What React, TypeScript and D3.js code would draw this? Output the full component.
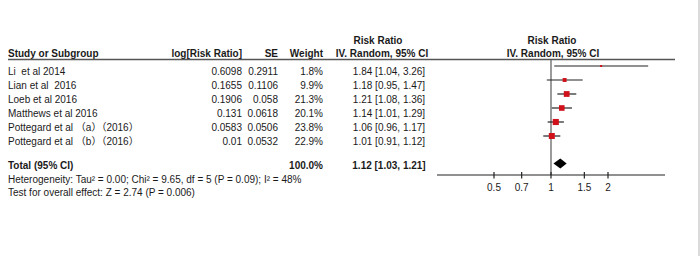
import React from "react";
import * as d3 from "d3";

const studies = [
  "Li  et al 2014",
  "Lian et al  2016",
  "Loeb et al 2016",
  "Matthews et al 2016",
  "Pottegard et al （a）（2016）",
  "Pottegard et al （b）（2016）",
];
const logRR = ["0.6098", "0.1655", "0.1906", "0.131", "0.0583", "0.01"];
const seVals = ["0.2911", "0.1106", "0.058", "0.0618", "0.0506", "0.0532"];
const weights = [1.8, 9.9, 21.3, 20.1, 23.8, 22.9];
const rr = [1.84, 1.18, 1.21, 1.14, 1.06, 1.01];
const lo = [1.04, 0.95, 1.08, 1.01, 0.96, 0.91];
const hi = [3.26, 1.47, 1.36, 1.29, 1.17, 1.12];
const total = { rr: 1.12, lo: 1.03, hi: 1.21, weight: "100.0%" };
const ticks = [0.5, 0.7, 1, 1.5, 2];
const heterogeneity = "Heterogeneity: Tau² = 0.00; Chi² = 9.65, df = 5 (P = 0.09); I² = 48%";
const overall = "Test for overall effect: Z = 2.74 (P = 0.006)";

const fmt = (v: number) => v.toFixed(2);

export default function App() {
  const x = d3.scaleLog().domain([0.25, 4]).range([437, 665]);
  const rowY = d3.scaleLinear().domain([0, 1]).range([66, 80]);
  const font = "'Liberation Sans', Arial, 'Noto Sans CJK SC', sans-serif";
  const fs = 10;
  const txt = "#1a1a1a";
  const totalY = 163.5;
  const axisY = 175;
  const x1 = x(1);

  return (
    <svg
      width={700}
      height={256}
      style={{ position: "absolute", left: 0, top: 0, background: "#fff" }}
      fontFamily={font}
      fontSize={fs}
    >
      <rect x={0} y={0} width={700} height={256} fill="#fff" />
      {/* right border */}
      <line x1={699} x2={699} y1={0} y2={256} stroke="#b5b5b5" strokeWidth={1} />

      {/* headers */}
      <g fill={txt} fontWeight="bold">
        <text x={378} y={44} textAnchor="middle">Risk Ratio</text>
        <text x={552} y={44} textAnchor="middle">Risk Ratio</text>
        <text x={8} y={57}>Study or Subgroup</text>
        <text x={242} y={57} textAnchor="end">log[Risk Ratio]</text>
        <text x={278} y={57} textAnchor="end">SE</text>
        <text x={323} y={57} textAnchor="end">Weight</text>
        <text x={382} y={57} textAnchor="middle">IV. Random, 95% CI</text>
        <text x={553} y={57} textAnchor="middle">IV. Random, 95% CI</text>
      </g>
      <line x1={8} x2={675} y1={59.5} y2={59.5} stroke="#555" strokeWidth={1.3} />

      {/* vertical line of no effect */}
      <line x1={x1} x2={x1} y1={60} y2={axisY} stroke="#666" strokeWidth={1.3} />

      {/* study rows */}
      {studies.map((s, i) => {
        const y = rowY(i);
        const ty = y + 8.5;
        const size = Math.max(2, 1.25 * Math.sqrt(weights[i]));
        return (
          <g key={s}>
            <text x={8} y={ty} fill={txt} xmlSpace="preserve" style={{ whiteSpace: "pre" }}>
              {s}
            </text>
            <text x={242} y={ty} fill={txt} textAnchor="end">{logRR[i]}</text>
            <text x={278} y={ty} fill={txt} textAnchor="end">{seVals[i]}</text>
            <text x={323} y={ty} fill={txt} textAnchor="end">{weights[i].toFixed(1)}%</text>
            <text x={389} y={ty} fill={txt} textAnchor="middle">
              {`${fmt(rr[i])} [${fmt(lo[i])}, ${fmt(hi[i])}]`}
            </text>
            <line x1={x(lo[i])} x2={x(hi[i])} y1={y} y2={y} stroke="#222" strokeWidth={1.2} />
            <rect
              x={x(rr[i]) - size / 2}
              y={y - size / 2}
              width={size}
              height={size}
              fill="#d0111a"
            />
          </g>
        );
      })}

      {/* total */}
      <g fill={txt} fontWeight="bold">
        <text x={8} y={169}>Total (95% CI)</text>
        <text x={323} y={169} textAnchor="end">{total.weight}</text>
        <text x={389} y={169} textAnchor="middle">
          {`${fmt(total.rr)} [${fmt(total.lo)}, ${fmt(total.hi)}]`}
        </text>
      </g>
      <path
        d={`M${x(total.lo)},${totalY} L${x(total.rr)},${totalY - 5} L${x(total.hi)},${totalY} L${x(total.rr)},${totalY + 5} Z`}
        fill="#000"
      />
      <text x={8} y={183} fill={txt}>{heterogeneity}</text>
      <text x={8} y={196} fill={txt}>{overall}</text>

      {/* axis */}
      <line x1={x(0.25)} x2={x(4)} y1={axisY} y2={axisY} stroke="#222" strokeWidth={1.2} />
      {ticks.map((t) => (
        <g key={t}>
          <line x1={x(t)} x2={x(t)} y1={axisY - 3} y2={axisY + 3.5} stroke="#222" strokeWidth={1.2} />
          <text x={x(t)} y={191} textAnchor="middle" fill={txt}>{String(t)}</text>
        </g>
      ))}
    </svg>
  );
}
